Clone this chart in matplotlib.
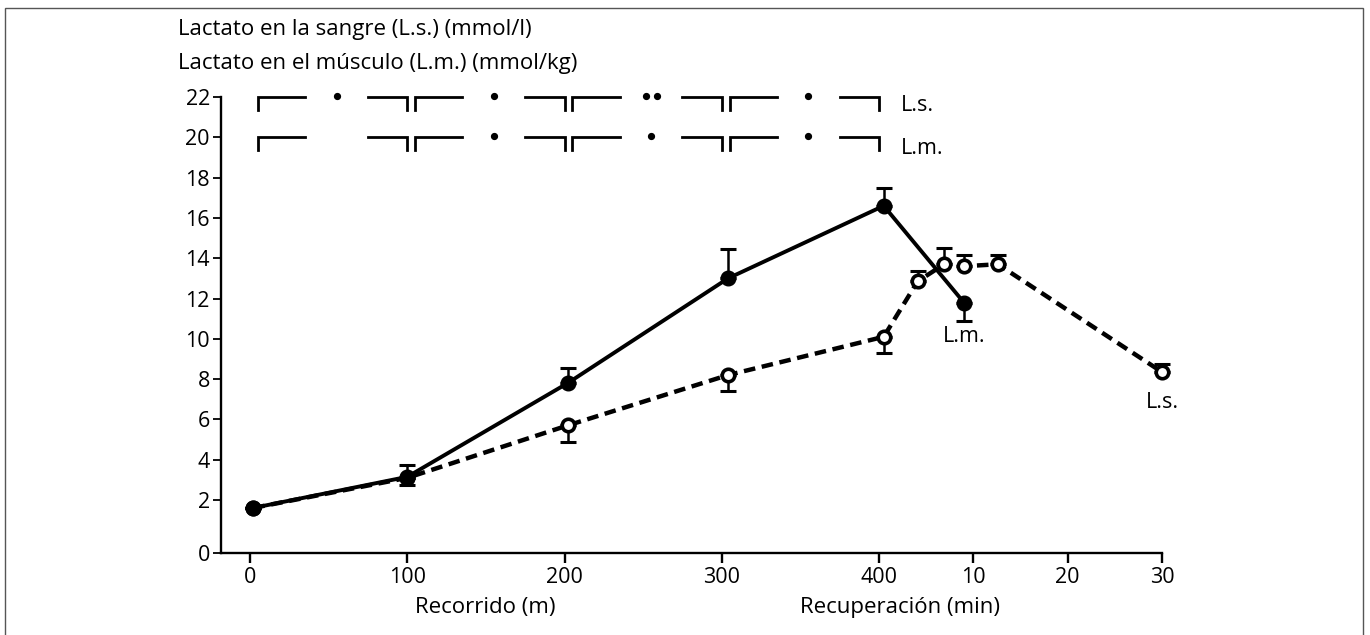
import numpy as np
import matplotlib
matplotlib.use('Agg')
import matplotlib.pyplot as plt
from matplotlib.patches import Rectangle

plt.rcParams['font.family'] = ['Open Sans', 'DejaVu Sans']

# ---------------- data ----------------
# horizontal axis: distance run (m) 0..400, then recovery time (min) starting at 400 m
MIN_TO_X = 6.0  # horizontal units per recovery minute


def rec(t):
    return 400 + MIN_TO_X * np.asarray(t, dtype=float)


# Muscle lactate (L.m.), filled circles, solid line
lm_dist = [2, 100, 202, 304, 403]
lm_rec_min = [9.0]
lm_vals = [1.7, 3.15, 7.8, 13.0, 16.6, 11.8]
lm_err_up = [0, 0.6, 0.75, 1.45, 0.9, 0]
lm_err_down = [0, 0.4, 0, 0, 0, 0.9]

# Blood lactate (L.s.), open circles, dashed line
ls_dist = [2, 100, 202, 304, 403]
ls_rec_min = [4.1, 6.9, 9.0, 12.6, 30.0]
ls_vals = [1.7, 3.1, 5.7, 8.2, 10.1, 12.85, 13.7, 13.6, 13.7, 8.35]
ls_err_up = [0, 0, 0, 0, 0, 0.5, 0.8, 0.55, 0.45, 0.4]
ls_err_down = [0, 0, 0.8, 0.8, 0.8, 0, 0, 0, 0, 0]

dist_ticks = [0, 100, 200, 300, 400]
rec_ticks = [10, 20, 30]
y_ticks = [0, 2, 4, 6, 8, 10, 12, 14, 16, 18, 20, 22]

# significance brackets over each 100 m interval
bracket_edges = [0, 100, 200, 300, 400]
ls_marks = [1, 1, 2, 1]
lm_marks = [0, 1, 1, 1]

title_lines = ["Lactato en la sangre (L.s.) (mmol/l)",
               "Lactato en el músculo (L.m.) (mmol/kg)"]

FS = 15.5
FS_TITLE = 16

# ---------------- figure ----------------
W, H = 1370, 635
fig = plt.figure(figsize=(W / 100, H / 100), dpi=100)
ax = fig.add_axes([221 / W, 82 / H, 941 / W, 456 / H])

K = 1.315


def fwd(v):
    v = np.asarray(v, dtype=float)
    return np.where(v < 2, 2 - (2 - v) * K, v)


def inv(u):
    u = np.asarray(u, dtype=float)
    return np.where(u < 2, 2 - (2 - u) / K, u)


ax.set_yscale('function', functions=(fwd, inv))
ax.set_ylim(0, 22)
ax.set_xlim(-18.5, float(rec(30)))

lm_x = np.concatenate([lm_dist, rec(lm_rec_min)])
ls_x = np.concatenate([ls_dist, rec(ls_rec_min)])

# lines
ax.plot(ls_x, ls_vals, color='black', lw=3.2, dashes=(2.6, 1.5), zorder=2,
        dash_capstyle='butt', clip_on=False)
ax.plot(lm_x, lm_vals, color='black', lw=2.8, zorder=3, clip_on=False)

# error bars
eb1 = ax.errorbar(lm_x, lm_vals, yerr=[lm_err_down, lm_err_up], fmt='none',
                  ecolor='black', elinewidth=1.8, capsize=6, capthick=2.2, zorder=3)
eb2 = ax.errorbar(ls_x, ls_vals, yerr=[ls_err_down, ls_err_up], fmt='none',
                  ecolor='black', elinewidth=1.8, capsize=5.5, capthick=2.2, zorder=3)
for eb in (eb1, eb2):
    for art in list(eb.lines[1]) + list(eb.lines[2]):
        art.set_clip_on(False)

# markers (filled drawn over open ones where they coincide)
ax.plot(ls_x, ls_vals, 'o', ms=9, mfc='white', mec='black', mew=2.6, zorder=5,
        clip_on=False)
ax.plot(lm_x, lm_vals, 'o', ms=10.5, mfc='black', mec='black', zorder=6,
        clip_on=False)

# brackets
drop = 0.65
for row_y, marks in ((22, ls_marks), (20, lm_marks)):
    for i in range(len(bracket_edges) - 1):
        a, b = bracket_edges[i], bracket_edges[i + 1]
        ax.plot([a + 5, a + 5, a + 35], [row_y - drop, row_y, row_y],
                color='black', lw=2.0, clip_on=False, solid_joinstyle='miter')
        ax.plot([b - 25, b, b], [row_y, row_y, row_y - drop],
                color='black', lw=2.0, clip_on=False, solid_joinstyle='miter')
        n = marks[i]
        if n == 1:
            ax.plot([a + 55], [row_y + 0.05], 'o', ms=4.2, color='black', clip_on=False)
        elif n == 2:
            ax.plot([a + 51.5, a + 58.5], [row_y + 0.05] * 2, 'o', ms=4.2,
                    color='black', clip_on=False)

ax.text(414, 21.6, "L.s.", fontsize=FS, ha='left', va='center', clip_on=False)
ax.text(414, 19.45, "L.m.", fontsize=FS, ha='left', va='center', clip_on=False)

# curve labels
ax.text(float(rec(9.0)), 10.1, "L.m.", fontsize=FS, ha='center', va='center')
ax.text(float(rec(30.0)), 6.85, "L.s.", fontsize=FS, ha='center', va='center',
        clip_on=False)

# axes styling
for s in ('top', 'right'):
    ax.spines[s].set_visible(False)
ax.spines['left'].set_linewidth(1.7)
ax.spines['bottom'].set_linewidth(1.7)

xt = list(dist_ticks) + list(rec(rec_ticks))
xl = [str(v) for v in dist_ticks] + [str(v) for v in rec_ticks]
ax.set_xticks(xt)
ax.set_xticklabels(xl)
ax.set_yticks(y_ticks)
ax.set_yticklabels([str(v) for v in y_ticks])
ax.yaxis.set_minor_locator(matplotlib.ticker.NullLocator())
ax.xaxis.set_minor_locator(matplotlib.ticker.NullLocator())
ax.tick_params(axis='x', direction='out', length=7, width=1.7, pad=3, labelsize=FS)
ax.tick_params(axis='y', direction='out', length=6, width=1.3, pad=2, labelsize=FS)

# axis titles
fig.text(485 / W, 1 - 607 / H, "Recorrido (m)", fontsize=FS_TITLE, ha='center', va='center')
fig.text(900 / W, 1 - 607 / H, "Recuperación (min)", fontsize=FS_TITLE, ha='center', va='center')
fig.text(178 / W, 1 - 29 / H, title_lines[0], fontsize=FS_TITLE, ha='left', va='center')
fig.text(178 / W, 1 - 63 / H, title_lines[1], fontsize=FS_TITLE, ha='left', va='center')

# outer frame
fig.patches.append(Rectangle((5 / W, -0.01), (1363 - 5) / W, 1.01 - 8 / H,
                             transform=fig.transFigure, fill=False,
                             edgecolor='#555555', lw=1.0))

fig.savefig('out.png', dpi=100)
